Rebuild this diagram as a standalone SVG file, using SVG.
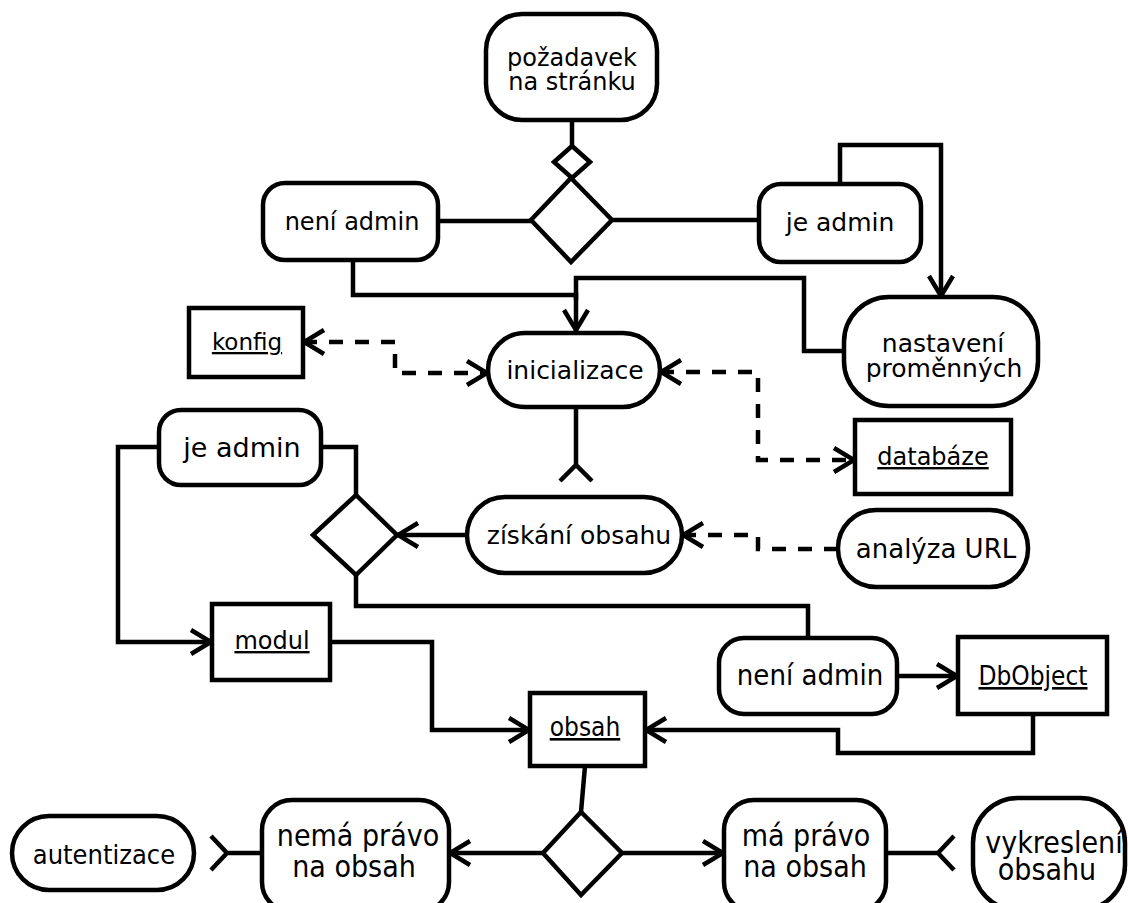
<svg xmlns="http://www.w3.org/2000/svg" width="1128" height="903" viewBox="0 0 1128 903">
  <style>
    .box { fill: #fff; stroke: #000; stroke-width: 4.5; }
    .line { fill: none; stroke: #000; stroke-width: 4.5; }
    .dash { fill: none; stroke: #000; stroke-width: 4.5; stroke-dasharray: 14 12; }
    text { font-family: "DejaVu Sans", sans-serif; font-size: 24px; fill: #000; text-anchor: middle; }
    .r23 { font-size: 23px; }
    .r25 { font-size: 25px; }
    .r26 { font-size: 26px; }
    .r27 { font-size: 27px; }
    .c { font-family: "DejaVu Sans Condensed", "DejaVu Sans", sans-serif; font-stretch: semi-condensed; }
    .c26 { font-size: 26px; }
    .c27 { font-size: 27px; }
    .c29 { font-size: 29px; }
    .c30 { font-size: 30px; }
    .obj { text-decoration: underline; }
  </style>
  <defs>
    <marker id="arrow" viewBox="0 0 26 30" refX="24" refY="15" markerWidth="26" markerHeight="30" orient="auto" markerUnits="userSpaceOnUse">
      <path d="M3,3 L23,15 L3,27" fill="none" stroke="#000" stroke-width="4.5"/>
    </marker>
    <marker id="arrowStart" viewBox="0 0 26 30" refX="24" refY="15" markerWidth="26" markerHeight="30" orient="auto-start-reverse" markerUnits="userSpaceOnUse">
      <path d="M3,3 L23,15 L3,27" fill="none" stroke="#000" stroke-width="4.5"/>
    </marker>
  </defs>

  <!-- connectors -->
  <g id="connectors">
    <path class="line" d="M572,120 V146"/>
    <path class="line" d="M438,221 H531"/>
    <path class="line" d="M612,220 H759"/>
    <path class="line" d="M840,184 V145 H941 V297" marker-end="url(#arrow)"/>
    <path class="line" d="M353,260 V295 H576 V331" marker-end="url(#arrow)"/>
    <path class="line" d="M844,351 H804 V278 H576 V300"/>
    <path class="dash" d="M303,342 H395 V373 H488" marker-start="url(#arrowStart)" marker-end="url(#arrow)"/>
    <path class="dash" d="M660,372 H758 V460 H855" marker-start="url(#arrowStart)" marker-end="url(#arrow)"/>
    <path class="line" d="M576,407 V465 M560,481 L576,465 L592,481"/>
    <path class="dash" d="M838,549 H758 V535 H682" marker-end="url(#arrow)"/>
    <path class="line" d="M467,535 H397" marker-end="url(#arrow)"/>
    <path class="line" d="M356,495 V447 H321"/>
    <path class="line" d="M159,447 H118 V642 H212" marker-end="url(#arrow)"/>
    <path class="line" d="M356,575 V606 H808 V638"/>
    <path class="line" d="M897,676 H958" marker-end="url(#arrow)"/>
    <path class="line" d="M1033,714 V753 H838 V730 H645" marker-end="url(#arrow)"/>
    <path class="line" d="M330,642 H432 V730 H530" marker-end="url(#arrow)"/>
    <path class="line" d="M585,766 L581,812"/>
    <path class="line" d="M543,853 H449" marker-end="url(#arrow)"/>
    <path class="line" d="M622,853 H724" marker-end="url(#arrow)"/>
    <path class="line" d="M262,853 H227 M211,836 L227,853 L211,870"/>
    <path class="line" d="M886,853 H938 M954,836 L938,853 L954,870"/>
  </g>

  <!-- nodes -->
  <g id="pozadavek">
    <rect class="box" x="486" y="14" width="171" height="106" rx="36"/>
    <text x="572" y="66">požadavek</text>
    <text x="572" y="90">na stránku</text>
  </g>
  <g id="decision-top-small">
    <polygon class="box" points="572,146 590,162 572,178 554,162"/>
  </g>
  <g id="decision-top">
    <polygon class="line" points="571,178 612,220 571,262 531,220"/>
  </g>
  <g id="neni-admin-top">
    <rect class="box" x="263" y="183" width="175" height="77" rx="22"/>
    <text x="352" y="230">není admin</text>
  </g>
  <g id="je-admin-top">
    <rect class="box" x="759" y="184" width="162" height="78" rx="22"/>
    <text class="r25" x="840" y="231">je admin</text>
  </g>
  <g id="nastaveni">
    <rect class="box" x="844" y="297" width="194" height="109" rx="45"/>
    <text class="r25" x="943" y="352">nastavení</text>
    <text class="r25" x="944" y="377">proměnných</text>
  </g>
  <g id="inicializace">
    <rect class="box" x="488" y="333" width="172" height="74" rx="37"/>
    <text class="r25" x="575" y="379">inicializace</text>
  </g>
  <g id="konfig">
    <rect class="box" x="189" y="308" width="114" height="69"/>
    <text class="obj r23" x="247" y="350">konfig</text>
  </g>
  <g id="databaze">
    <rect class="box" x="855" y="420" width="156" height="74"/>
    <text class="obj" x="933" y="465">databáze</text>
  </g>
  <g id="ziskani-obsahu">
    <rect class="box" x="467" y="497" width="215" height="76" rx="38"/>
    <text class="r25" x="579" y="544">získání obsahu</text>
  </g>
  <g id="analyza-url">
    <rect class="box" x="838" y="510" width="190" height="77" rx="38"/>
    <text class="r26" x="936" y="558">analýza URL</text>
  </g>
  <g id="je-admin-mid">
    <rect class="box" x="159" y="410" width="162" height="75" rx="22"/>
    <text class="r27" x="242" y="457">je admin</text>
  </g>
  <g id="decision-mid">
    <polygon class="box" points="356,495 397,535 356,575 313,535"/>
  </g>
  <g id="modul">
    <rect class="box" x="212" y="604" width="118" height="76"/>
    <text class="obj" x="272" y="649">modul</text>
  </g>
  <g id="neni-admin-low">
    <rect class="box" x="719" y="638" width="178" height="76" rx="25"/>
    <text class="c c29" x="810" y="685">není admin</text>
  </g>
  <g id="dbobject">
    <rect class="box" x="958" y="637" width="149" height="77"/>
    <text class="obj c c26" x="1033" y="685">DbObject</text>
  </g>
  <g id="obsah">
    <rect class="box" x="530" y="693" width="115" height="73"/>
    <text class="obj c c26" x="585" y="736">obsah</text>
  </g>
  <g id="decision-bottom">
    <polygon class="box" points="581,812 622,853 581,895 543,853"/>
  </g>
  <g id="nema-pravo">
    <rect class="box" x="262" y="800" width="187" height="112" rx="30"/>
    <text class="c c30" x="358" y="846">nemá právo</text>
    <text class="c c30" x="354" y="877">na obsah</text>
  </g>
  <g id="ma-pravo">
    <rect class="box" x="724" y="800" width="162" height="112" rx="30"/>
    <text class="c c30" x="806" y="846">má právo</text>
    <text class="c c30" x="805" y="877">na obsah</text>
  </g>
  <g id="autentizace">
    <rect class="box" x="12" y="816" width="182" height="74" rx="37"/>
    <text class="c c27" x="104" y="864">autentizace</text>
  </g>
  <g id="vykresleni">
    <rect class="box" x="973" y="798" width="152" height="112" rx="45"/>
    <text class="c c30" x="1054" y="853">vykreslení</text>
    <text class="c c30" x="1047" y="880">obsahu</text>
  </g>
</svg>
